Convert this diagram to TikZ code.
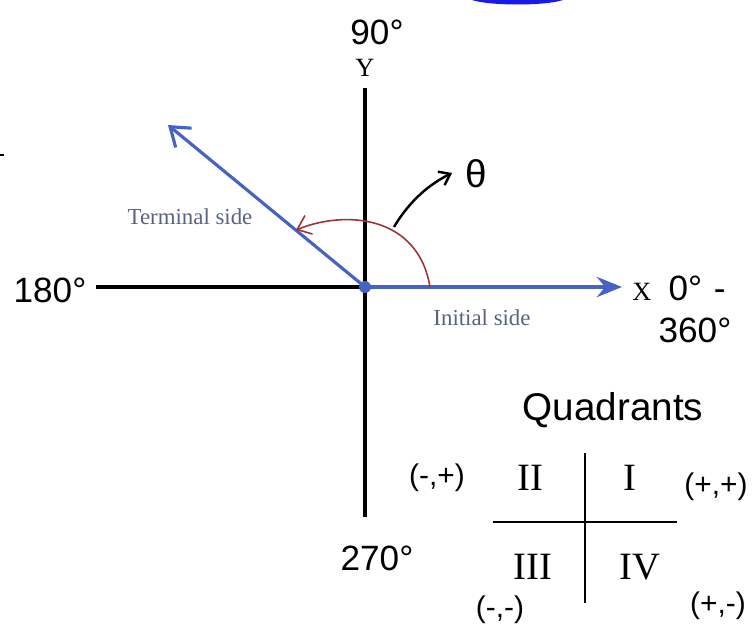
\documentclass[tikz,border=0pt]{standalone}
\usepackage{fontspec}
\setmainfont{Liberation Serif}
\newfontfamily\handfont{Liberation Sans}
\usepackage{xcolor}
\usepackage{tikz}
\usetikzlibrary{arrows.meta}

\definecolor{sideblue}{RGB}{72,98,196}
\definecolor{turnred}{RGB}{160,50,55}
\definecolor{sidetext}{RGB}{90,98,130}
\definecolor{capblue}{RGB}{25,25,235}

\begin{document}
\begin{tikzpicture}[
    x=0.02cm,
    y=-0.02cm,
    hand/.style={
        font=\handfont\fontsize{20}{24}\selectfont,
        inner sep=1pt
    },
    sign/.style={
        font=\handfont\fontsize{17}{19}\selectfont,
        inner sep=1pt
    },
    roman/.style={
        font=\fontsize{22}{24}\selectfont,
        inner sep=1pt
    },
    sidelbl/.style={
        font=\fontsize{13}{15}\selectfont,
        text=sidetext,
        inner sep=1pt
    },
    axlbl/.style={
        font=\fontsize{15}{17}\selectfont,
        inner sep=1pt
    },
    axis/.style={
        line width=2.2pt
    },
    side/.style={
        sideblue,
        line width=1.8pt
    },
    grid/.style={
        line width=1.5pt
    }
]
\useasboundingbox (0,0) rectangle (753,625);

% Cut-off marks at the edges
\fill[capblue] (472,0) .. controls (490,6) and (545,6) .. (563,0) -- cycle;
\draw[line width=1.5pt] (0,155) -- (4,155);

% Axes
\coordinate (O) at (365,287);
\coordinate (xl) at (96,287);
\coordinate (xr) at (622,287);
\coordinate (yt) at (365,88);
\coordinate (yb) at (365,517);
\coordinate (tip) at (168,125);

\draw[axis] (xl) -- (O);
\draw[axis] (yt) -- (yb);

% Initial and terminal side
\draw[side, line width=2.6pt, -{Stealth[length=5mm, width=4mm]}] (O) -- (xr);
\draw[side, -{Straight Barb[length=3.5mm, width=5mm]}] (O) -- (tip);
\fill[sideblue] (O) circle (6);

% Angle of rotation
\coordinate (arcs) at (430,287);
\coordinate (arce) at (296,230);
\draw[turnred, line width=0.9pt, -{Straight Barb[length=2.5mm, width=4mm]}]
    (arcs) .. controls (418,215) and (345,210) .. (arce);

\coordinate (ptr) at (394,227);
\coordinate (ptrend) at (452,173);
\draw[line width=1.4pt, -{Straight Barb[length=2mm, width=3mm]}]
    (ptr) .. controls (410,200) and (430,184) .. (ptrend);
\node[hand, font=\handfont\fontsize{22}{24}\selectfont] (theta) at (476,174) {θ};

% Axis labels
\node[axlbl] (ylab) at (365,68) {Y};
\node[axlbl] (xlab) at (642,292) {X};
\node[sidelbl] (term) at (190,217) {Terminal side};
\node[sidelbl] (init) at (482,318) {Initial side};

% Degrees
\node[hand] (d90) at (377,32) {90°};
\node[hand] (d180) at (50,290) {180°};
\node[hand] (d0) at (697,288) {0°\,\,-};
\node[hand] (d360) at (695,330) {360°};
\node[hand] (d270) at (377,558) {270°};

% Quadrants
\node[hand, font=\handfont\fontsize{22}{24}\selectfont] (quad) at (613,410) {Quadrants};

\coordinate (ql) at (493,522);
\coordinate (qr) at (677,522);
\coordinate (qt) at (585,453);
\coordinate (qb) at (585,603);
\draw[grid] (ql) -- (qr);
\draw[grid] (qt) -- (qb);

\node[roman] (q2) at (530,478) {II};
\node[roman] (q1) at (630,478) {I};
\node[roman] (q3) at (533,567) {III};
\node[roman] (q4) at (640,567) {IV};

\node[sign] (s2) at (437,478) {(-,+)};
\node[sign] (s1) at (716,487) {(+,+)};
\node[sign] (s3) at (500,610) {(-,-)};
\node[sign] (s4) at (718,606) {(+,-)};

\end{tikzpicture}
\end{document}
